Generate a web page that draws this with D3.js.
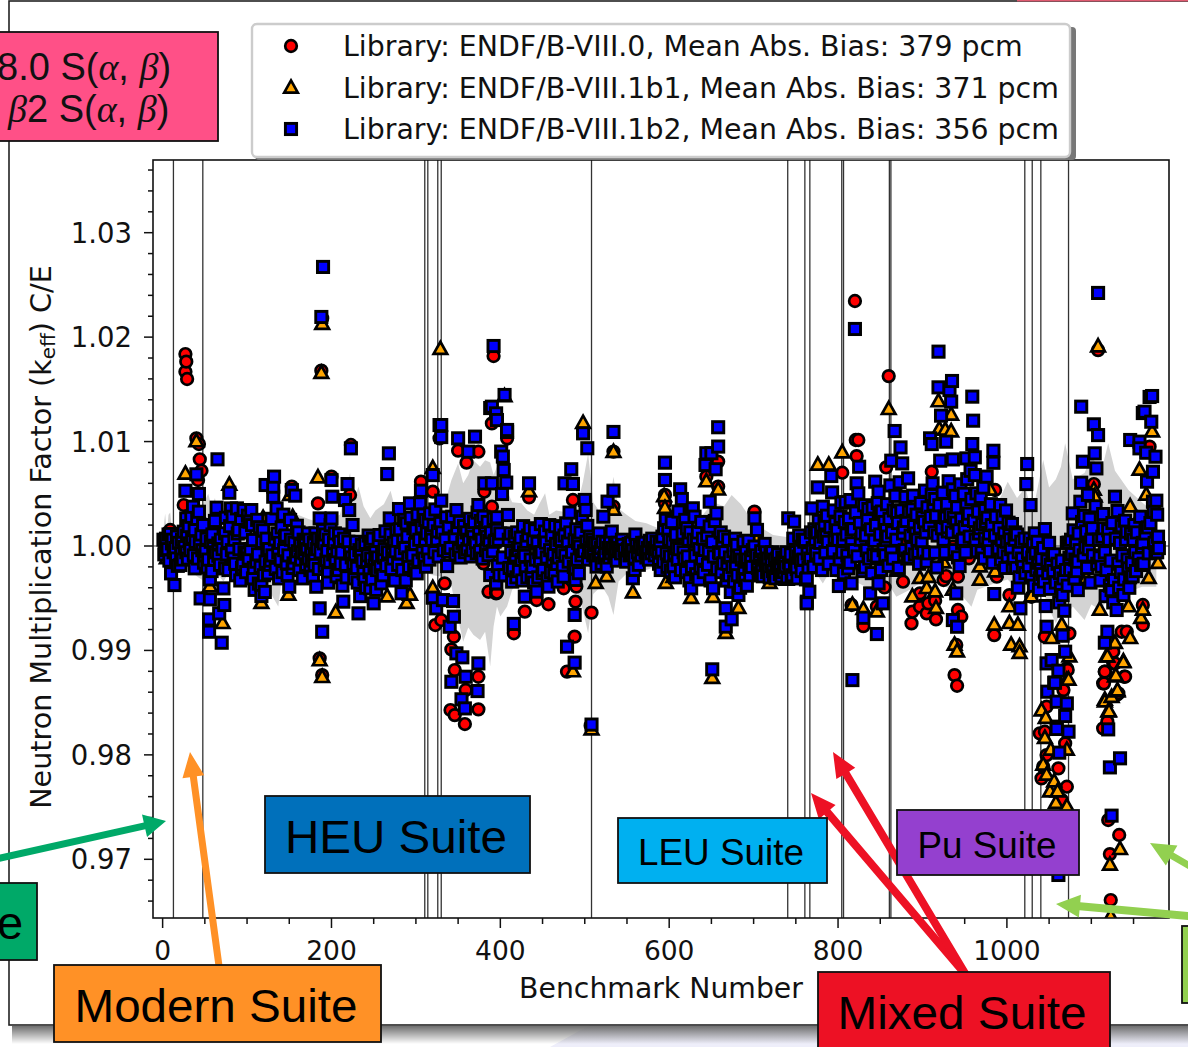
<!DOCTYPE html>
<html><head><meta charset="utf-8">
<script src="https://cdn.jsdelivr.net/npm/d3@7"></script>
<style>html,body{margin:0;padding:0;background:#fff;overflow:hidden}svg{display:block}</style>
</head><body><svg id="c" width="1188" height="1047"></svg>
<script>
// Values: [benchmark number, deviation of C/E from 1 in pcm]
const libraryNames = ["Library: ENDF/B-VIII.0, Mean Abs. Bias: 379 pcm","Library: ENDF/B-VIII.1b1, Mean Abs. Bias: 371 pcm","Library: ENDF/B-VIII.1b2, Mean Abs. Bias: 356 pcm"];
const xTicks = [0,200,400,600,800,1000];
const yTicks = [0.97,0.98,0.99,1.00,1.01,1.02,1.03];
const suiteBoundaries = [12.8,47.6,310.5,314.1,325.9,330,508,740.4,760.7,766.6,804.4,806.5,860.8,862.6,1021.2,1030,1040.2,1073];

const endf80 = [[27,1838],[28,1765],[27,1669],[29,1599],[40,1030],[43,976],[44,830],[46,721],[42,632],[25,392],[9,153],[47,217],[188,1679],[223,967],[184,408],[222,488],[186,-1076],[189,-1236],[153,568],[200,664],[88,-55],[328,1031],[306,616],[320,520],[334,137],[334,-358],[323,-757],[330,-709],[345,-869],[342,-990],[346,-1188],[374,-1252],[359,-1379],[374,-1564],[341,-1571],[346,-1619],[358,-1705],[350,913],[360,798],[374,903],[381,520],[390,1174],[392,1819],[390,376],[356,-103],[368,-39],[386,-438],[395,-454],[380,-166],
[189,2180],[408,1031],[434,466],[436,52],[486,441],[457,-558],[429,-628],[396,-447],[416,-836],[489,-533],[488,-868],[479,-1203],[508,-638],[475,-405],[534,377],[534,904],[595,489],[595,409],[613,352],[644,664],[658,569],[701,329],[658,808],[443,-517],[490,-389],[507,-1720],
[820,2346],[824,1015],[821,1015],[860,1627],[822,861],[805,702],[911,711],[857,753],[830,-767],[816,-565],[846,-581],[855,-396],[844,-262],[877,-342],[887,-741],[888,-629],[897,-581],[905,-645],[907,-549],[916,-703],[915,-524],[897,-454],[928,-288],[925,-326],[869,-182],[942,-294],[955,-118],[936,-7],[938,-1236],[941,-1338],[985,-853],[940,-948],[942,-613],[946,-677],[988,-294],[986,536],[1003,-470],[1029,-486],[1045,-869],[1066,-853],[1074,-837],[1088,121],[1103,593],[1136,-821],[1142,-821],[1126,-1012],[1126,-1124],[1116,-1204],[1114,-1315],[1139,-1252],[1130,-1427],[1161,-565],[1169,951],[1161,-757],[1071,-1172],[1067,-1380],[1108,1876],
[1047,-1539],[1045,-1778],[1039,-1794],[1069,-1890],[1061,-2129],[1047,-2002],[1043,-2113],[1041,-2225],[1071,-2305],[1065,-2432],[1115,-1315],[1116,-1203],[1128,-1124],[1140,-1251],[1132,-1411],[1119,-1682],[1114,-1746],[1120,-2624],[1133,-2767],[1122,-2950],[1123,-3390],[1072,-1187],
[100,-90],[152,-60],[240,-120],[300,-50],[420,-80],[470,-160],[560,-90],[620,-120],[690,-210],[760,-100],[790,-60],[880,60],[960,-40],[1100,-160]];

const endf81b1 = [[27,689],[40,999],[188,1653],[184,654],[186,-1098],[189,-1258],[329,1883],[79,584],[151,486],[154,274],[119,265],[71,-741],[205,-639],[266,-486],[289,-549],[293,-470],[149,-470],[117,-549],[232,-182],[208,-310],[56,-390],[320,-406],[320,743],[356,-39],[189,2123],[405,1430],
[534,897],[594,473],[595,361],[644,616],[658,537],[498,1175],[513,-357],[526,-293],[557,-447],[605,-300],[596,-357],[626,-501],[652,-491],[682,-596],[667,-836],[617,-134],[486,-1203],[434,521],[534,345],[705,90],[719,-357],[739,-325],[651,-1267],[508,-1760],
[1108,1908],[860,1308],[805,893],[776,775],[789,775],[934,1254],[919,1382],[920,1117],[927,1110],[934,1094],[817,-565],[830,-607],[846,-629],[888,-486],[897,-310],[907,-300],[905,-406],[915,-438],[916,-597],[928,-87],[936,-422],[985,-757],[986,-246],[975,-39],[968,-198],[968,-326],[938,-948],[941,-1012],[1003,-741],[1013,-757],[1005,-948],[1015,-964],[1015,-1028],[1003,-581],[1029,-486],[980,536],[954,25],[948,121],[1039,-182],[1065,-757],[1053,-885],[1074,-1060],[1071,-1284],[1088,89],[1094,-310],[1103,536],[1104,472],[1128,-932],[1118,-1060],[1138,-1108],[1128,-1252],[1131,-1395],[1120,-1587],[1116,-1475],[1146,-885],[1159,-693],[1161,-613],[1144,-581],[1110,-613],[1165,488],[1172,1094],[1157,727],[1146,376],[1155,249],[1179,-166],[1168,-310],[1177,-23],
[1119,-1060],[1138,-1117],[1129,-1245],[1131,-1385],[1124,-1449],[1116,-1491],[1121,-1586],[1073,-1283],[1041,-1577],[1046,-1650],[1045,-1842],[1071,-1954],[1052,-1954],[1043,-2097],[1047,-2193],[1056,-2257],[1051,-2353],[1060,-2353],[1058,-2464],[1071,-2496],[1134,-2905],[1122,-3055],[1123,-3550],
[5,-120],[60,-30],[110,-80],[170,-40],[215,-210],[260,-90],[350,-30],[445,-70],[540,-140],[575,-60],[640,-170],[700,-240],[750,-130],[810,-180],[870,-240],[925,-160],[1020,-110],[1090,-210]];

const endf81b2 = [[3,0],[1,60],[5,-40],[9,115],[11,25],[3,25],[10,-262],[14,-374],[21,-182],[25,137],[28,264],[27,529],[38,153],[40,686],[43,498],[43,328],[36,376],[32,25],[44,25],[38,-214],[53,-205],[56,-320],[45,-502],[56,-511],[72,-406],[73,-565],[67,-645],[55,-703],[55,-821],[70,-926],[74,-214],[66,-93],[66,25],[64,367],[65,830],[79,510],[81,360],[74,121],[88,360],[96,344],[105,344],[103,233],[90,153],[107,57],[100,-71],[111,-150],[107,-310],[117,-374],[117,-479],[125,-262],[122,-150],[133,63],[141,178],[135,360],[131,472],[132,664],[122,584],[131,568],[153,536],[157,482],[159,194],[169,41],[147,-166],[155,-166],[148,-278],[150,-390],[180,-87],[180,-182],[178,-294],[182,-390],[186,-597],[189,-821],[186,264],[200,264],[190,153],[204,121],[191,25],[205,-134],[194,-134],[196,-262],[196,-351],[208,-230],[220,41],[224,-109],[200,632],[219,593],[201,472],[216,440],[221,344],[225,201],[223,935],[268,887],[266,689],[214,-533],[232,-645],[246,-406],[250,-549],[242,-150],[254,-230],[259,-358],[283,-453],[291,-109],[301,-262],[312,-198],[246,41],[257,105],[277,153],[269,264],[280,354],[289,217],[293,408],[305,408],[311,249],[306,529],[317,312],[330,434],[320,679],[328,1158],[336,274],[325,63],[338,-55],[337,-192],[320,-495],[324,-597],[332,-518],[344,-527],[345,-677],[340,-773],[348,-1028],[355,-1066],[342,-1300],[359,-1252],[374,-1124],[373,-1389],[354,-1468],[358,-1555],[350,1031],[370,1047],[362,903],[381,600],[390,600],[390,1334],[395,1270],[392,1915],[348,344],[374,392],[380,280],[368,89],[384,89],[393,41],[356,57],[386,-87],[388,-278],[395,-358],[330,1158],[330,1043],[190,2672],[188,2193],[405,1446],[388,1321],[396,1206],[408,1092],
[115,180],[126,-30],[145,90],[165,-60],[172,120],[210,40],[235,-60],[238,-260],[262,-110],[272,-40],[285,50],[296,-90],[300,150],[318,110],[28,-60],[16,-120],[50,-90],[60,-20],[84,-120],[94,-210],[128,-140],
[408,1111],[401,904],[403,856],[404,728],[407,607],[402,498],[409,297],[396,275],[396,154],[394,51],[417,90],[423,10],[429,-95],[414,-341],[395,-357],[435,170],[434,600],[429,-485],[443,-437],[457,-389],[475,-293],[489,-325],[489,-213],[467,-172],[480,42],[482,320],[484,735],[476,600],[486,594],[478,217],[453,138],[454,32],[472,58],[500,441],[501,345],[503,192],[494,-6],[498,1079],[503,936],[488,-660],[508,-1710],[479,-964],[488,-1117],[416,-746],[651,-1181],[534,1092],[534,530],[527,425],[522,281],[532,138],[524,-70],[526,-197],[557,-309],[559,-229],[514,-197],[595,798],[595,632],[613,543],[615,450],[630,281],[628,361],[599,154],[621,170],[604,42],[597,-70],[605,-197],[626,-405],[652,-405],[637,-197],[642,-38],[660,-70],[665,90],[680,10],[680,-102],[656,313],[648,425],[658,1137],[658,952],[650,888],[644,888],[643,776],[655,735],[648,186],[664,-165],[668,-331],[682,-469],[667,-596],[674,-702],[667,-772],[690,-325],[701,-6],[704,154],[701,265],[748,233],[737,-134],[761,58],[763,-309],[763,-533],
[540,-50],[544,60],[548,-120],[552,20],[556,-80],[560,110],[564,-180],[568,30],[572,-60],[576,-130],[580,70],[584,-30],[588,-170],[592,90],[601,-100],[609,-20],[618,-120],[633,40],[446,-60],[462,-130],[438,-200],[450,-260],[470,60],[512,30],[518,-60],[538,-140],
[690,-150],[695,-220],[706,-260],[712,-130],[718,-230],[724,-290],[730,-190],[736,-250],[742,-160],[746,-280],[752,-310],[756,-150],[713,20],[720,-70],[728,-120],
[820,2078],[919,1861],[935,1580],[919,1519],[932,1493],[934,1382],[922,1248],[959,1430],[960,1200],[867,1101],[874,944],[863,817],[876,791],[825,759],[792,670],[776,561],[793,513],[822,600],[824,504],[844,616],[848,520],[883,648],[889,482],[849,319],[836,354],[804,414],[782,376],[769,360],[741,265],[784,217],[797,217],[816,162],[857,153],[878,178],[900,274],[884,328],[912,600],[911,488],[913,383],[928,999],[911,976],[909,1031],[936,829],[921,817],[936,542],[952,839],[962,849],[959,976],[984,912],[984,797],[976,664],[962,679],[964,504],[952,386],[974,344],[928,271],[940,223],[954,249],[975,233],[974,73],[992,392],[1002,223],[1004,63],[1017,41],[1024,785],[1023,593],[1028,392],[1045,162],[1033,121],[1040,-71],[1054,-87],[1026,-192],[1007,-205],[1039,-310],[1013,-399],[1016,-597],[985,-460],[1046,-575],[1066,-470],[1084,-422],[1080,-310],[1084,-150],[1093,-13],[1073,32],[1077,-77],[1078,312],[1092,287],[1114,306],[1087,424],[1088,606],[1106,743],[1104,887],[1090,807],[1108,1062],[1103,1165],[1088,1334],[1113,89],[1128,472],[1131,335],[1140,242],[1142,137],[1179,89],[1173,424],[1177,434],[1174,328],[1167,178],[1166,616],[1173,711],[1176,855],[1165,893],[1171,1190],[1163,1286],[1172,1436],[1157,999],[1146,1015],[1157,935],[1160,-7],[1159,-182],[1146,-300],[1144,-214],[1127,-326],[1138,-470],[1130,-613],[1124,-422],[1112,-198],[1110,-109],[1119,-821],[1116,-926],[1047,-773],[1066,-859],[1069,-1012],[1053,-1092],[1061,-1194],[1047,-1124],[1057,-1309],[1071,-1507],[1069,-1628],[1059,-1730],[940,-454],[936,-709],[941,-773],[853,-549],[846,-843],[830,-687],[838,-454],[848,-358],[817,-1284],[816,-358],[801,-383],[832,-205],[812,-214],[802,-128],[842,-87],[863,-55],[857,57],[765,-205],[762,-320],[766,-438],[763,-549],[749,-198],[735,-118],[760,41],[786,89],[816,25],[885,-109],[895,-55],[915,-64],[917,-205],[942,-109],[944,-192],[905,-150],[978,25],[1040,-230],
[1056,-1309],[1048,-1395],[1059,-1491],[1059,-1752],[1073,-1778],[1062,-1979],[1120,-1756],[1134,-2033],[1122,-2120],[1124,-2582],[1061,-3150],[1108,2423],[1169,1427],[1161,1273],
[775,130],[800,60],[808,230],[828,120],[870,320],[892,120],[930,140],[948,60],[968,170],[990,-30],[1010,130],[1100,60],[1120,150],[1150,60],[1178,-60]];

// Central cloud of the same series, where the squares overlap and each one is only estimated.
const endf81b2Cloud = [[2,-80],[4,70],[6,-30],[7,110],[8,-140],[12,60],[13,-60],[15,-20],[17,90],[18,-190],[19,30],[22,-70],[23,60],[24,-130],[26,-10],[29,100],[30,-120],[31,190],[33,-40],[34,280],[35,80],[37,-90],[39,40],[41,260],[42,-120],[46,110],[47,-40],[48,200],[49,-160],[51,-50],[52,70],
[54,-130],[57,40],[58,-240],[59,110],[61,-130],[62,240],[63,-60],[68,-180],[69,60],[71,-30],[75,270],[76,-80],[77,40],[78,-230],[80,190],[82,-40],[83,280],[85,60],[86,-170],[87,-280],[89,120],[91,-30],[92,-330],[93,260],[95,-180],[97,-60],[98,130],[99,-250],[101,290],[102,-120],[104,-30],[106,200],[108,-210],[109,-420],
[112,250],[113,-80],[114,-360],[116,-200],[118,40],[119,150],[120,-280],[121,-440],[123,70],[124,-30],[127,-180],[129,260],[130,-90],[134,-220],[136,120],[137,-60],[138,-310],[139,30],[140,-130],[142,-250],[143,300],[144,-40],[146,100],[149,-90],[151,250],[152,60],[154,-210],[156,30],[158,-110],[160,-50],[161,130],[162,-230],[163,10],[164,-130],[166,-310],[167,60],[168,-70],[170,-180],[171,-30],[173,-120],[174,60],[175,-230],[176,-40],[177,-140],[179,30],
[181,120],[183,-30],[184,70],[185,-220],[187,-60],[188,60],[192,-190],[193,110],[195,-50],[197,60],[198,-150],[199,200],[202,-80],[203,30],[206,-290],[207,-50],[209,110],[211,-170],[212,-60],[213,-380],[215,70],[217,-180],[218,-300],[222,-60],[226,-170],[227,-310],[228,-80],[229,40],[230,-210],[231,-350],[233,-40],[234,-480],[236,10],[237,-140],[239,-320],[240,30],[241,-400],[243,-90],[244,100],[245,-250],[247,-120],[248,-320],[249,70],[251,-190],[252,-60],[253,-420],[255,-110],[256,50],[258,-200],[260,-80],[261,-280],[263,-30],[264,140],[265,-190],[267,-60],[270,110],[271,-220],[273,-120],[274,30],[275,-330],[276,-50],[278,50],[279,-180],[281,160],[282,-70],[284,-230],[286,250],[287,-20],[288,-330],[290,90],[292,-200],[294,270],[295,-60],[297,170],[298,-230],[299,20],[302,300],[303,-140],[304,60],[307,180],[308,-60],[309,300],[310,-120],[311,60],[313,120],[314,-50],[315,230],[316,-130],[319,60],[321,200],[322,-60],[323,350],[326,140],[327,-100],[329,220],
[331,130],[333,-40],[335,60],[339,180],[341,-20],[343,280],[346,90],[347,-80],[349,170],[351,-40],[352,230],[353,-110],[355,30],[357,190],[358,-60],[360,130],[361,-30],[363,60],[364,260],[365,-100],[366,150],[367,-40],[369,230],[371,30],[372,-70],[373,320],[375,120],[376,-50],[377,240],[378,60],[379,-120],[382,170],[383,-40],[385,230],[387,50],[389,130],[391,-50],[392,260],[397,-190],[398,60],[399,-280],[400,120],[403,-110],[405,-280],
[410,60],[411,-210],[412,120],[413,-60],[415,-220],[418,-90],[419,-300],[420,130],[421,-40],[422,-240],[424,80],[425,-130],[426,-330],[427,190],[428,-60],[430,-210],[431,40],[432,-300],[433,100],[436,-130],[437,-280],[439,60],[440,-350],[441,150],[442,-130],[444,30],[445,-300],[447,-140],[448,210],[449,-60],[451,-230],[452,50],[455,-110],[456,-310],[458,200],[459,-40],[460,-250],[461,100],[463,-80],[464,-260],[465,190],[466,20],[468,-340],[469,-110],[471,180],[473,-60],[474,-200],[476,100],[477,-90],[481,-150],[483,130],[485,-60],[487,-200],[488,60],[490,160],[491,-130],[492,30],[493,-260],[495,130],[496,-90],[497,280],[499,-50],[502,40],[504,-130],[505,-40],[506,90],[507,-60],[509,60],[510,-90],[511,10],[513,-130],[515,30],[516,-70],[517,120],[519,-20],[520,-170],[521,40],[523,-110],[525,30],[528,-20],[529,-110],[530,40],[531,-70],[533,-20],[535,-90],[536,10],[537,-60],[539,30],
[541,-20],[543,-70],[545,10],[547,-40],[549,-150],[551,-30],[553,-90],[555,30],[557,-40],[559,-110],[561,10],[563,-60],[565,-10],[567,-90],[569,-30],[571,30],[573,-110],[575,-20],[577,50],[579,-70],[581,-20],[583,-90],[585,40],[587,-50],[589,20],[590,-230],[591,-60],[593,-150],[594,170],[596,250],[598,-200],[600,60],[602,-240],[603,230],[606,-70],[607,-300],[608,110],[610,-130],[611,330],[612,-30],[614,-230],[616,120],[617,-60],[619,250],[620,-250],[622,-100],[623,60],[624,-330],[625,130],[627,-200],[629,60],[631,-90],[632,-270],[634,130],[635,-320],[636,-30],[638,230],[639,-120],[640,70],[641,-250],[645,100],[646,-180],[647,-50],[649,-330],[651,40],[653,-100],[654,240],[657,-220],[659,-60],[661,130],[662,-250],[663,30],[666,-60],[669,-170],[670,60],[671,-280],[672,-110],[673,-440],[675,-200],[676,-50],[677,-340],[678,70],[679,-180],[681,-280],[683,-90],[684,-400],[686,-130],[687,-290],[688,40],[689,-210],[691,-60],[692,-380],[693,-130],[694,50],[696,-280],[697,-110],[698,-200],[699,-40],
[703,-90],[705,-210],[707,-120],[708,-280],[709,-50],[710,-190],[711,-290],[714,-170],[715,-60],[716,-250],[717,-120],[719,-300],[721,-170],[722,-60],[723,-240],[725,-130],[726,-310],[727,-210],[729,-80],[731,-270],[732,-170],[733,-290],[734,-110],[738,-200],[739,-60],[740,-300],[743,-210],[744,-80],[745,-300],[747,70],[750,-60],[751,-220],[753,-100],[754,100],[755,-30],[757,-240],[758,60],[759,-130],[764,-70],[767,-120],[768,130],[770,-20],[771,-200],[772,160],[773,60],[774,-70],[777,240],[778,-120],[779,30],[780,160],[781,-230],[783,90],[785,-60],[787,290],[788,40],[789,-170],[791,180],[794,-50],[795,340],[796,80],[798,-230],[799,150],
[803,280],[805,-60],[806,60],[807,-260],[809,420],[810,110],[811,-90],[813,260],[814,-160],[815,440],[818,160],[819,-40],[821,320],[823,-100],[826,220],[827,60],[829,-240],[831,390],[833,100],[834,-40],[835,250],[837,-120],[839,160],[840,-260],[841,370],[843,50],[845,200],[846,-100],[847,410],[850,110],[851,-230],[852,330],[854,-40],[855,230],[856,-90],[858,400],[859,90],[860,-190],[861,260],[862,580],[864,130],[865,-120],[866,340],[868,480],[869,60],[871,220],[872,-210],[873,610],[875,340],[877,120],[879,-40],[880,470],[881,240],[882,-120],[886,100],[887,-20],[888,350],[890,190],[891,-80],[893,300],[894,60],[896,-170],[897,180],[898,410],[899,30],[901,-60],[902,230],[903,530],[904,130],[906,370],[907,-70],[908,200],[910,280],[914,130],[915,450],[916,290],[918,100],[920,390],[923,170],[924,510],[925,60],[926,280],[927,-60],[929,400],[930,180],[931,620],[933,300],[935,130],[937,270],[938,-40],[939,480],[941,370],[943,150],[945,590],[946,260],[947,30],[949,500],[950,180],[951,-60],[953,640],[955,310],[956,90],[957,720],[958,450],[961,240],[963,60],[965,-50],[966,330],[967,120],[969,470],[970,-60],[971,210],[972,560],[973,-120],[977,270],[979,120],[980,-50],[981,400],[982,200],[983,-160],[986,100],[987,280],[989,-30],[991,170],[993,-130],[994,60],[995,280],[996,-60],[997,120],[998,-210],[999,340],[1000,40],[1001,-100],[1003,130],[1005,-30],[1006,210],[1008,-120],[1009,60],[1011,-210],[1012,110],[1014,-60],[1015,-300],[1018,-120],[1019,-200],
[1021,70],[1022,-260],[1025,-60],[1027,70],[1029,-300],[1030,-110],[1031,20],[1032,-380],[1034,-70],[1035,-230],[1036,40],[1037,-160],[1038,-420],[1041,-120],[1042,-270],[1043,-20],[1044,-340],[1048,-140],[1049,-260],[1050,30],[1051,-410],[1052,-180],[1055,-240],[1056,-80],[1058,-350],[1060,-170],[1062,-540],[1063,-260],[1064,-400],[1065,-140],[1067,-310],[1068,-620],[1070,-230],[1071,30],[1072,-380],[1074,-110],[1075,-230],[1076,60],[1079,150],[1081,-130],[1082,30],[1083,-240],[1085,120],[1086,-40],[1089,230],[1091,-90],[1094,140],[1095,-210],[1096,490],[1097,-30],[1098,260],[1099,-350],[1101,170],[1102,-90],[1105,380],[1107,-170],[1109,60],[1111,-330],[1115,170],[1116,-60],[1117,-480],[1118,-230],[1121,60],[1122,-380],[1123,-140],[1125,220],[1126,-540],[1129,70],[1132,-170],[1133,-400],[1134,30],[1135,-250],[1136,190],[1137,-90],[1139,-320],[1141,60],[1143,-130],[1145,-400],[1147,120],[1148,-160],[1149,-290],[1151,200],[1152,-60],[1153,-240],[1154,130],[1156,-120],[1158,280],[1161,30],[1162,-170],[1164,120],[1168,-70],[1170,220],[1175,30],[1176,-60],[1178,300],[1180,-20]];

const spreadX = [0,3,5,7,9,12,18,24,30,36,42,48,54,58,62,66,72,78,84,90,100,110,120,137,142,150,160,172,180,190,200,210,222,226,232,238,246,252,262,270,276,285,300,320,335,342,350,356,362,368,376,382,388,392,396,400,408,414,425,432,440,446,453,458,466,480,490,498,504,510,520,528,534,540,550,560,573,590,610,630,640,652,665,674,685,700,723,745,765,782,790,800,814,825,840,855,869,885,900,925,945,958,965,985,1001,1012,1022,1030,1043,1050,1058,1064,1069,1078,1092,1100,1112,1120,1128,1144,1160,1177];
const spreadHi = [100,310,120,300,320,90,180,220,300,240,280,400,500,380,460,300,360,400,330,300,260,280,300,320,230,280,300,260,240,300,260,300,700,420,570,380,265,340,400,530,340,300,220,300,430,630,790,600,680,820,760,820,800,680,760,600,530,420,410,340,300,400,505,300,340,320,350,620,888,420,300,340,664,360,297,240,217,160,200,260,300,420,380,489,400,220,106,80,60,60,110,200,376,260,160,300,220,180,260,150,180,120,200,340,616,460,560,300,823,560,640,760,983,640,700,860,720,983,720,536,420,300];
const spreadLo = [-120,-294,-110,-270,-300,-90,-180,-240,-200,-260,-300,-330,-300,-360,-240,-280,-340,-260,-360,-260,-240,-300,-340,-580,-260,-320,-280,-300,-340,-260,-300,-380,-300,-420,-340,-280,-360,-300,-240,-280,-320,-260,-220,-280,-300,-380,-700,-916,-780,-850,-900,-820,-1155,-770,-580,-676,-580,-420,-320,-380,-300,-420,-360,-300,-260,-340,-420,-620,-836,-460,-380,-485,-660,-340,-260,-240,-230,-180,-160,-240,-293,-260,-300,-280,-240,-180,-160,-180,-150,-358,-250,-340,-300,-360,-420,-300,-485,-420,-340,-380,-460,-581,-420,-360,-320,-420,-360,-480,-440,-600,-741,-620,-690,-580,-709,-560,-620,-480,-560,-440,-390,-390];

const width=1188,height=1047;
const svg=d3.select("#c");
const defs=svg.append("defs");
const grad=defs.append("linearGradient").attr("id","sh").attr("x1",0).attr("y1",0).attr("x2",0).attr("y2",1);
grad.append("stop").attr("offset",0).attr("stop-color","#6f6f6f");
grad.append("stop").attr("offset",1).attr("stop-color","#6f6f6f").attr("stop-opacity",0);
defs.append("clipPath").attr("id","plotclip").append("rect").attr("x",153).attr("y",160).attr("width",1016).attr("height",758);

// page background: slide frame, its shadow, neighbouring slide
svg.append("rect").attr("width",width).attr("height",height).attr("fill","#fff");
svg.append("polygon").attr("points","550,1047 590,1025 1188,1025 1188,1047").attr("fill","#eeeefa");
svg.append("rect").attr("x",12).attr("y",1026).attr("width",1176).attr("height",18).attr("fill","url(#sh)");
svg.append("rect").attr("x",9).attr("y",1).attr("width",1300).attr("height",1024).attr("fill","#fff").attr("stroke","#222").attr("stroke-width",1.6);
svg.append("rect").attr("x",1017).attr("y",-1).attr("width",171).attr("height",2.4).attr("fill","#e05a70");

// scales and axes
const x=d3.scaleLinear().domain([-11.4,1192]).range([153,1169]);
const y=d3.scaleLinear().domain([0.96438,1.03696]).range([918,160]);
const k=d=>1+d/1e5;
const plot=svg.append("g");
const clipped=plot.append("g").attr("clip-path","url(#plotclip)");

clipped.append("path").datum(spreadX.map((b,i)=>[b,spreadHi[i],spreadLo[i]]))
  .attr("fill","#d3d3d3")
  .attr("d",d3.area().x(d=>x(d[0])).y0(d=>y(k(d[2]))).y1(d=>y(k(d[1]))));
clipped.append("line").attr("x1",153).attr("x2",1169).attr("y1",y(1)).attr("y2",y(1)).attr("stroke","#444").attr("stroke-width",1);
clipped.selectAll("line.b").data(suiteBoundaries).join("line").attr("class","b")
  .attr("x1",d=>x(d)).attr("x2",d=>x(d)).attr("y1",160).attr("y2",918).attr("stroke","#333").attr("stroke-width",1.3);

const triPath="M0,-7.6 L6.8,4.6 L-6.8,4.6 Z";
function circles(g,data,px,py){g.selectAll("circle").data(data).join("circle").attr("cx",px).attr("cy",py).attr("r",5.8).attr("fill","#f00").attr("stroke","#000").attr("stroke-width",2.7);}
function tris(g,data,px,py){g.selectAll("path").data(data).join("path").attr("d",triPath).attr("transform",d=>`translate(${px(d)},${py(d)})`).attr("fill","#ffa500").attr("stroke","#000").attr("stroke-width",2.7).attr("stroke-linejoin","miter");}
function squares(g,data,px,py){g.selectAll("rect").data(data).join("rect").attr("x",d=>px(d)-5.6).attr("y",d=>py(d)-5.6).attr("width",11.2).attr("height",11.2).attr("fill","#00f").attr("stroke","#000").attr("stroke-width",2.9);}
const byB=(a,b)=>a[0]-b[0];
const px=d=>x(d[0]),py=d=>y(k(d[1]));
circles(clipped.append("g"),endf80.slice().sort(byB),px,py);
tris(clipped.append("g"),endf81b1.slice().sort(byB),px,py);
squares(clipped.append("g"),endf81b2.concat(endf81b2Cloud).sort(byB),px,py);

plot.append("rect").attr("x",153).attr("y",160).attr("width",1016).attr("height",758).attr("fill","none").attr("stroke","#111").attr("stroke-width",1.6);

const font="'DejaVu Sans'";
const xAxis=plot.append("g");
xAxis.selectAll("line").data(d3.range(0,1151,50)).join("line")
  .attr("x1",d=>x(d)).attr("x2",d=>x(d)).attr("y1",918).attr("y2",d=>d%200==0?928:924).attr("stroke","#111").attr("stroke-width",1.5);
xAxis.selectAll("text").data(xTicks).join("text").attr("x",d=>x(d)).attr("y",960)
  .attr("text-anchor","middle").attr("font-family",font).attr("font-size",26.5).attr("fill","#111").text(d=>d);
const yAxis=plot.append("g");
yAxis.selectAll("line").data(d3.range(966,1037,2)).join("line")
  .attr("y1",d=>y(d/1000)).attr("y2",d=>y(d/1000)).attr("x1",153).attr("x2",d=>(d%10==0)?144:148).attr("stroke","#111").attr("stroke-width",1.5);
yAxis.selectAll("text").data(yTicks).join("text").attr("x",132).attr("y",d=>y(d)+10)
  .attr("text-anchor","end").attr("font-family",font).attr("font-size",27.5).attr("fill","#111").text(d=>d.toFixed(2));
plot.append("text").attr("x",661).attr("y",998).attr("text-anchor","middle").attr("font-family",font).attr("font-size",28.3).attr("fill","#111").text("Benchmark Number");
const yl=plot.append("text").attr("transform","translate(51,537) rotate(-90)").attr("text-anchor","middle").attr("font-family",font).attr("font-size",28.6).attr("fill","#111");
yl.append("tspan").text("Neutron Multiplication Factor (k");
yl.append("tspan").attr("font-size",20).attr("dy",4).text("eff");
yl.append("tspan").attr("dy",-4).text(") C/E");

// annotation arrows
function arrow(x0,y0,x1,y1,color,w,hw,hl){
  const L=Math.hypot(x1-x0,y1-y0),ux=(x1-x0)/L,uy=(y1-y0)/L,nx=-uy,ny=ux;
  const bx=x1-ux*hl,by=y1-uy*hl;
  const p=[[x0+nx*w/2,y0+ny*w/2],[bx+nx*w/2,by+ny*w/2],[bx+nx*hw/2,by+ny*hw/2],[x1,y1],[bx-nx*hw/2,by-ny*hw/2],[bx-nx*w/2,by-ny*w/2],[x0-nx*w/2,y0-ny*w/2]];
  svg.append("polygon").attr("points",p.map(q=>q.join(",")).join(" ")).attr("fill",color);
}
arrow(-8,860,166,821,"#00A968",7,23,22);
arrow(219,966,190,752,"#FF9126",7,22,25);
arrow(966,975,811,793,"#ED1124",8,22,25);
arrow(966,975,833,752,"#ED1124",8,22,25);
arrow(1200,872,1150,843,"#92D050",7,23,25);
arrow(1200,917,1056,904,"#92D050",8,23,24);

// boxes
function box(x0,y0,x1,y1,fill){svg.append("rect").attr("x",x0).attr("y",y0).attr("width",x1-x0).attr("height",y1-y0).attr("fill",fill).attr("stroke","#111").attr("stroke-width",1.8);}
function label(t,cx,cy,size,len){svg.append("text").attr("x",cx).attr("y",cy).attr("text-anchor","middle").attr("font-family","'Liberation Sans'").attr("font-size",size).attr("fill","#000").attr("textLength",len).attr("lengthAdjust","spacingAndGlyphs").text(t);}
box(-4,32,218,141,"#FF5087");
box(-4,883,37,960,"#00A968");
box(54,965,381,1042,"#FF9126");
box(265,796,530,873,"#0070BB");
box(618,818,827,883,"#00B0F0");
box(897,810,1079,875,"#9440CF");
box(818,972,1110,1060,"#ED1124");
box(1182,926,1200,1003,"#92D050");
label("HEU Suite",396,853,47,222);
label("Modern Suite",216,1022,47,283);
label("LEU Suite",721,865,37,166);
label("Pu Suite",987,858,37,139);
label("Mixed Suite",962,1029,47,249);
svg.append("text").attr("x",-3).attr("y",939).attr("font-family","'Liberation Sans'").attr("font-size",47).attr("fill","#000").text("e");

function mathLine(xp,yp,parts){
  const t=svg.append("text").attr("x",xp).attr("y",yp).attr("font-size",38).attr("fill","#111");
  parts.forEach(p=>t.append("tspan").attr("font-family",p[1]?"'Liberation Serif'":"'Liberation Sans'").attr("font-style",p[1]?"italic":"normal").text(p[0]));
}
mathLine(-3,80,[["8.0 S(",0],["α",1],[", ",0],["β",1],[")",0]]);
mathLine(8,122,[["β",1],["2 S(",0],["α",1],[", ",0],["β",1],[")",0]]);

// legend
svg.append("rect").attr("x",255).attr("y",27).attr("width",821).attr("height",133).attr("rx",4).attr("fill","#777");
svg.append("rect").attr("x",252).attr("y",24).attr("width",818).attr("height",133).attr("rx",5).attr("fill","#fff").attr("stroke","#ccc").attr("stroke-width",2.4);
const legendY=[46,88,129];
circles(svg.append("g"),[0],()=>291,()=>legendY[0]);
tris(svg.append("g"),[0],()=>291,()=>legendY[1]);
squares(svg.append("g"),[0],()=>291,()=>legendY[2]);
svg.append("g").selectAll("text").data(libraryNames).join("text").attr("x",343).attr("y",(d,i)=>legendY[i]+10)
  .attr("font-family",font).attr("font-size",28.4).attr("fill","#111").text(d=>d);
</script></body></html>
